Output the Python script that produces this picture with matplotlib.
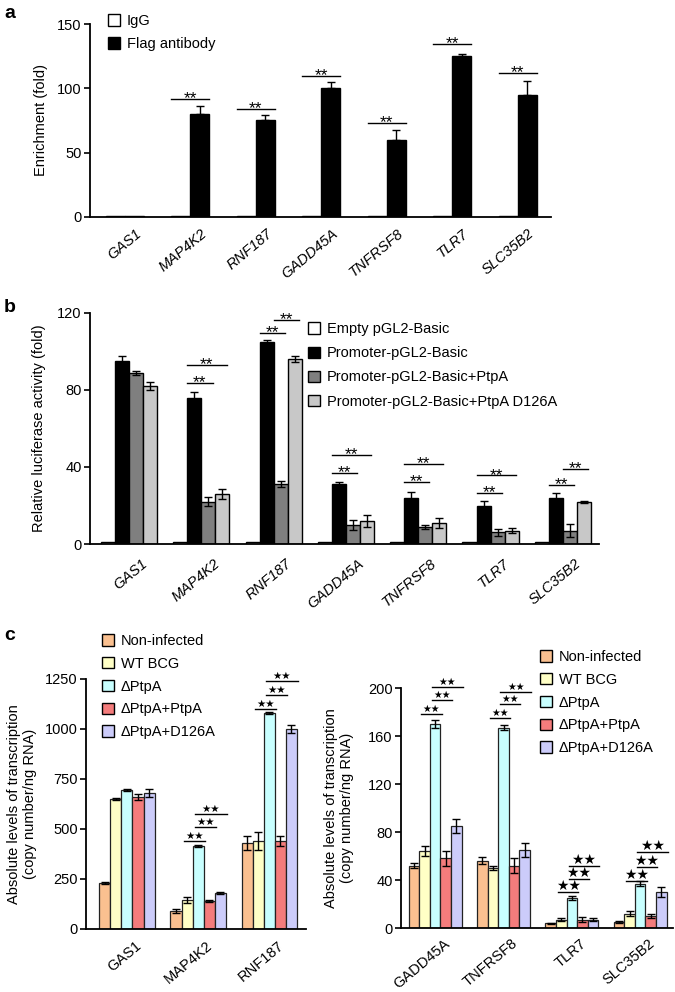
import matplotlib
matplotlib.use('Agg')
import matplotlib.pyplot as plt
import matplotlib.transforms as mtransforms
from matplotlib.patches import Patch
import numpy as np

plt.rcParams['font.family'] = ['Liberation Sans', 'DejaVu Sans']
plt.rcParams['font.size'] = 10.5

# ---------------- data ----------------
genes_ab = ['GAS1', 'MAP4K2', 'RNF187', 'GADD45A', 'TNFRSF8', 'TLR7', 'SLC35B2']

# panel a
a_labels = ['IgG', 'Flag antibody']
a_igg = [0.8, 0.8, 0.8, 0.8, 0.8, 0.8, 0.8]
a_igg_err = [0, 0, 0, 0, 0, 0, 0]
a_flag = [0.8, 80, 75, 100, 60, 125, 95]
a_flag_err = [0, 6, 4, 5, 8, 2, 11]
# (gene, bar_i, bar_j, y)
a_sig = [(1, 0, 1, 91.6), (2, 0, 1, 83.8), (3, 0, 1, 109.8),
         (4, 0, 1, 73.4), (5, 0, 1, 134.4), (6, 0, 1, 112.0)]

# panel b
b_labels = ['Empty pGL2-Basic', 'Promoter-pGL2-Basic',
            'Promoter-pGL2-Basic+PtpA', 'Promoter-pGL2-Basic+PtpA D126A']
b_empty = [0.8, 0.8, 0.8, 0.8, 0.8, 0.8, 0.8]
b_empty_err = [0, 0, 0, 0, 0, 0, 0]
b_promoter = [95, 76, 105, 31, 24, 20, 24]
b_promoter_err = [2.5, 2.8, 1.0, 1.0, 3.0, 2.5, 2.5]
b_ptpa = [89, 22, 31, 10, 9, 6, 7]
b_ptpa_err = [1.0, 2.5, 1.5, 2.5, 1.0, 2.0, 3.5]
b_d126a = [82, 26, 96, 12, 11, 7, 22]
b_d126a_err = [2.0, 2.5, 1.5, 3.0, 2.5, 1.5, 0.5]
b_sig = [(1, 1, 2, 83.7), (1, 1, 3, 93.2),
         (2, 1, 2, 109.6), (2, 2, 3, 116.5),
         (3, 1, 2, 36.8), (3, 1, 3, 46.2),
         (4, 1, 2, 32.3), (4, 1, 3, 41.8),
         (5, 1, 2, 26.3), (5, 1, 3, 35.6),
         (6, 1, 2, 30.6), (6, 2, 3, 39.1)]

# panel c
c_labels = ['Non-infected', 'WT BCG', '\u0394PtpA', '\u0394PtpA+PtpA', '\u0394PtpA+D126A']
c1_genes = ['GAS1', 'MAP4K2', 'RNF187']
c1_non = [232, 88, 430]
c1_non_err = [5, 10, 35]
c1_wt = [652, 145, 440]
c1_wt_err = [5, 15, 45]
c1_dptpa = [694, 416, 1080]
c1_dptpa_err = [5, 5, 5]
c1_comp = [660, 140, 440]
c1_comp_err = [15, 5, 25]
c1_d126a = [680, 178, 1000]
c1_d126a_err = [20, 5, 22]
c1_sig = [(1, 1, 2, 442), (1, 2, 3, 512), (1, 2, 4, 576),
          (2, 1, 2, 1101), (2, 2, 3, 1172), (2, 2, 4, 1238)]

c2_genes = ['GADD45A', 'TNFRSF8', 'TLR7', 'SLC35B2']
c2_non = [52, 56, 4, 5]
c2_non_err = [2, 3, 0.5, 1]
c2_wt = [64, 50, 7, 12]
c2_wt_err = [4, 2, 1.5, 2]
c2_dptpa = [170, 167, 25, 37]
c2_dptpa_err = [3, 2, 2, 2]
c2_comp = [58, 52, 7, 10]
c2_comp_err = [6, 6, 2, 2]
c2_d126a = [85, 65, 7, 30]
c2_d126a_err = [6, 6, 1, 4]
c2_sig = [(0, 1, 2, 178.7), (0, 2, 3, 190.3), (0, 2, 4, 200.8),
          (1, 1, 2, 175.0), (1, 2, 3, 186.4), (1, 2, 4, 196.9),
          (2, 1, 2, 29.6), (2, 2, 3, 40.7), (2, 2, 4, 51.8),
          (3, 1, 2, 39.3), (3, 2, 3, 51.2), (3, 2, 4, 63.0)]

# ---------------- layout helpers ----------------
W, H = 675, 992
fig = plt.figure(figsize=(W / 100, H / 100), dpi=100)


def px_axes(l, r, t, b):
    return fig.add_axes([l / W, 1 - b / H, (r - l) / W, (b - t) / H])


def style(ax, labels, xlim, ylim, yticks, italic, dx, pad):
    for s in ['top', 'right']:
        ax.spines[s].set_visible(False)
    for s in ['left', 'bottom']:
        ax.spines[s].set_linewidth(1.3)
    ax.set_xlim(*xlim)
    ax.set_ylim(*ylim)
    ax.set_yticks(yticks)
    ax.tick_params(axis='y', length=4, width=1.2, pad=2, labelsize=10.5)
    ax.set_xticks(range(len(labels)))
    ax.set_xticklabels(labels, rotation=40, ha='right', va='top',
                       rotation_mode='anchor',
                       style='italic' if italic else 'normal', fontsize=10.5)
    ax.tick_params(axis='x', length=0, pad=pad)
    off = mtransforms.ScaledTranslation(dx / 100, 0, fig.dpi_scale_trans)
    for lab in ax.get_xticklabels():
        lab.set_transform(lab.get_transform() + off)


def bars(ax, series, errs, colors, w, one_sided=False, edge='black', lw=1.0, capsize=3):
    n = len(series)
    for k, (vals, er, col) in enumerate(zip(series, errs, colors)):
        x = np.arange(len(vals)) + (k - (n - 1) / 2) * w
        ax.bar(x, vals, width=w, color=col, edgecolor=edge, linewidth=lw, zorder=2)
        er = np.asarray(er, dtype=float)
        mask = er > 0
        v = np.asarray(vals, dtype=float)[mask]
        if one_sided:
            yerr = [np.zeros(mask.sum()), er[mask]]
        else:
            yerr = er[mask]
        ax.errorbar(x[mask], v, yerr=yerr, fmt='none', ecolor='black',
                    elinewidth=1.0, capsize=capsize, capthick=1.0, zorder=3)


def sig(ax, specs, n, w, lp, rp, text, fs, dy):
    for g, i, j, y in specs:
        ci = g + (i - (n - 1) / 2) * w
        cj = g + (j - (n - 1) / 2) * w
        x0 = ci - lp * w
        x1 = cj + rp * w
        ax.plot([x0, x1], [y, y], color='black', lw=1.0, clip_on=False, zorder=4)
        ax.annotate(text, ((x0 + x1) / 2, y), xytext=(0, dy), textcoords='offset points',
                    ha='center', va='baseline', fontsize=fs, annotation_clip=False)


def legend(ax, labels, colors, x_px, y_px, spacing, fs=10.5):
    handles = [Patch(facecolor=c, edgecolor='black', linewidth=1.0) for c in colors]
    ax.legend(handles, labels, loc='upper left',
              bbox_to_anchor=(x_px / W, 1 - y_px / H), bbox_transform=fig.transFigure,
              frameon=False, handlelength=0.8, handleheight=0.8, handletextpad=0.5,
              labelspacing=spacing, borderpad=0, borderaxespad=0, fontsize=fs)


# ---------------- panel a ----------------
axa = px_axes(90, 551, 24, 217)
wa = 0.29
bars(axa, [a_igg, a_flag], [a_igg_err, a_flag_err], ['white', 'black'], wa,
     one_sided=True)
style(axa, genes_ab, (-0.535, 6.51), (0, 150), [0, 50, 100, 150], True, 10, 7)
sig(axa, a_sig, 2, wa, 0.5, 0.5, '**', 12.5, -3)
legend(axa, a_labels, ['white', 'black'], 108, 14, 0.62)
fig.text(41 / W, 1 - 120 / H, 'Enrichment (fold)', rotation=90, ha='center',
         va='center', fontsize=10.5)
fig.text(4 / W, 1 - 14 / H, 'a', fontsize=14, fontweight='bold', va='center')

# ---------------- panel b ----------------
axb = px_axes(90, 599, 313, 544)
wb = 0.194
bars(axb, [b_empty, b_promoter, b_ptpa, b_d126a],
     [b_empty_err, b_promoter_err, b_ptpa_err, b_d126a_err],
     ['white', 'black', '#7F7F7F', '#C8C8C8'], wb)
style(axb, genes_ab, (-0.54, 6.5), (0, 120), [0, 40, 80, 120], True, 12, 9)
sig(axb, b_sig, 4, wb, 0.5, 0.3, '**', 12.5, -3)
legend(axb, b_labels, ['white', 'black', '#7F7F7F', '#C8C8C8'], 308, 322, 0.7)
fig.text(39 / W, 1 - 428 / H, 'Relative luciferase activity (fold)', rotation=90,
         ha='center', va='center', fontsize=10.5)
fig.text(4 / W, 1 - 307 / H, 'b', fontsize=14, fontweight='bold', va='center')

# ---------------- panel c ----------------
c_colors = ['#FAC090', '#FFFFC6', '#C8FFFF', '#F47C7C', '#CCCCFA']
wc = 0.155
axc1 = px_axes(86, 306, 679, 929)
bars(axc1, [c1_non, c1_wt, c1_dptpa, c1_comp, c1_d126a],
     [c1_non_err, c1_wt_err, c1_dptpa_err, c1_comp_err, c1_d126a_err],
     c_colors, wc, edge='#222222', lw=0.9, capsize=3)
style(axc1, c1_genes, (-0.577, 2.52), (0, 1250), [0, 250, 500, 750, 1000, 1250],
      False, 8, 7)
sig(axc1, c1_sig, 5, wc, 0.3, 0.6, '\u2605\u2605', 7.5, 1.5)
legend(axc1, c_labels, c_colors, 102, 634, 0.6)
fig.text(22 / W, 1 - 804 / H, 'Absolute levels of transcription\n(copy number/ng RNA)',
         rotation=90, ha='center', va='center', fontsize=10.5,
         multialignment='center', linespacing=1.2)

axc2 = px_axes(401, 673, 688, 928)
bars(axc2, [c2_non, c2_wt, c2_dptpa, c2_comp, c2_d126a],
     [c2_non_err, c2_wt_err, c2_dptpa_err, c2_comp_err, c2_d126a_err],
     c_colors, wc, edge='#222222', lw=0.9, capsize=3)
style(axc2, c2_genes, (-0.5, 3.48), (0, 200), [0, 40, 80, 120, 160, 200],
      False, 8, 6)
sig(axc2, c2_sig[:6], 5, wc, 0.3, 0.6, '\u2605\u2605', 7, 1.5)
sig(axc2, c2_sig[6:], 5, wc, 0.3, 0.6, '\u2605\u2605', 10, 1.5)
legend(axc2, c_labels, c_colors, 540, 650, 0.6)
fig.text(339 / W, 1 - 808 / H, 'Absolute levels of transcription\n(copy number/ng RNA)',
         rotation=90, ha='center', va='center', fontsize=10.5,
         multialignment='center', linespacing=1.2)
fig.text(4 / W, 1 - 635 / H, 'c', fontsize=14, fontweight='bold', va='center')

fig.savefig('out.png', dpi=100)
